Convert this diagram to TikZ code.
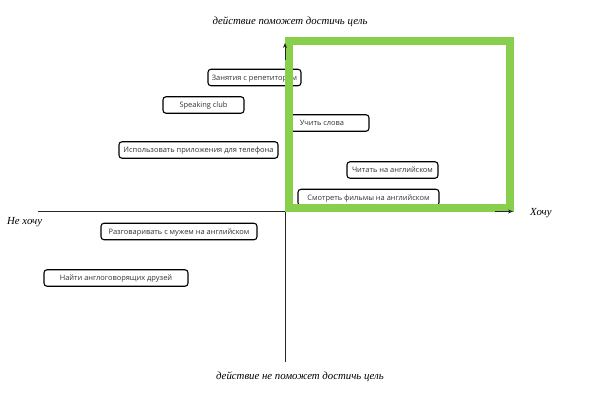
\documentclass[tikz,border=0pt]{standalone}
\usepackage{fontspec}
\setmainfont{Open Sans}
\newfontfamily\handfont{Liberation Serif}
\usetikzlibrary{arrows.meta}
\definecolor{boxgreen}{RGB}{137,207,78}
\definecolor{txtgray}{RGB}{50,50,50}
\tikzset{
  item/.style={draw=black, line width=1.1pt, rounded corners=3pt, fill=white,
    minimum height=16.5pt, inner sep=0pt, text height=6.1pt, text depth=1pt,
    font=\fontsize{7.45}{8}\selectfont, text=txtgray},
  axis/.style={draw=black!85, line width=0.9pt},
  hand/.style={font=\handfont\itshape\fontsize{10.8}{12}\selectfont, text=black, inner sep=0pt},
}
\begin{document}
\begin{tikzpicture}[x=1pt,y=-1pt]
\useasboundingbox (0,0) rectangle (590,403);
% axes
\coordinate (ytop) at (285,43);
\coordinate (ybot) at (285,362);
\coordinate (xleft) at (38,211.5);
\coordinate (xright) at (513,211.5);
\draw[axis] (ybot) -- (ytop);
\draw[axis] (xleft) -- (xright);
% nodes
\node[item, minimum width=93pt] (n1) at (254.5,77.5) {Занятия с репетитором};
\node[item, minimum width=81pt] (n2) at (203.5,105) {Speaking club};
\node[item, minimum width=82pt] (n3) at (328,123) {\hspace*{-12pt}Учить слова};
\node[item, minimum width=159pt] (n6) at (198.5,150) {Использовать приложения для телефона};
\node[item, minimum width=91pt] (n4) at (392.5,170) {Читать на английском};
\node[item, minimum width=141pt] (n5) at (368.5,197.5) {Смотреть фильмы на английском};
\node[item, minimum width=156pt] (n7) at (179,231.5) {Разговаривать с мужем на английском};
\node[item, minimum width=144pt] (n8) at (116,278) {Найти англоговорящих друзей};
% green rectangle
\draw[boxgreen, line width=8pt] (288.5,41) rectangle (510,208);
% arrow tips
\draw[axis, -{Stealth[length=5pt,width=4pt]}] (285,60) -- (ytop);
\draw[axis, -{Stealth[length=5pt,width=4pt]}] (495,211.5) -- (xright);
% labels
\node[hand] (ltop) at (290,22) {действие поможет достичь цель};
\node[hand] (lbot) at (300,377) {действие не поможет достичь цель};
\node[hand, anchor=west] (lleft) at (7,222) {Не хочу};
\node[hand, anchor=west] (lright) at (530,213) {Хочу};
\end{tikzpicture}
\end{document}
